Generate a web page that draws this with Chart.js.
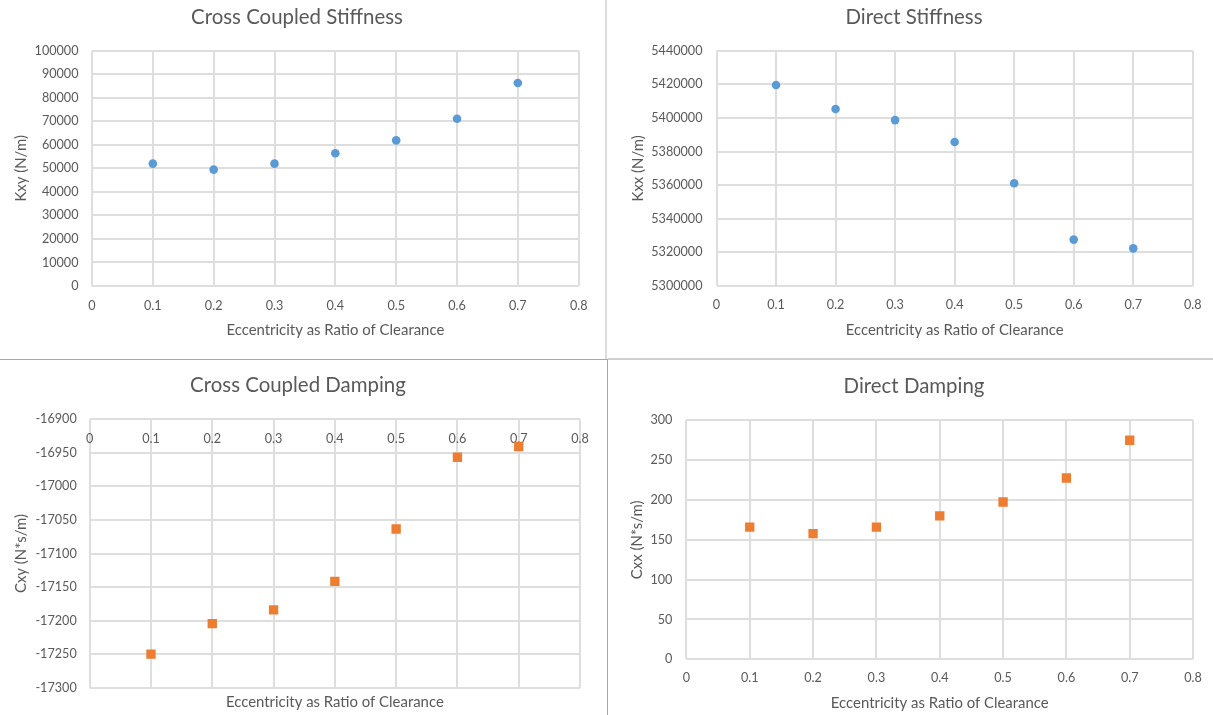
<!DOCTYPE html>
<html><head><meta charset="utf-8">
<script src="https://cdn.jsdelivr.net/npm/chart.js@4/dist/chart.umd.min.js"></script>
<style>
html,body{margin:0;padding:0;background:#fff;width:1213px;height:715px;overflow:hidden;position:relative}
canvas{position:absolute}
.sep{position:absolute}
</style></head><body>
<canvas id="c1"></canvas>
<canvas id="c2"></canvas>
<canvas id="c3"></canvas>
<canvas id="c4"></canvas>
<div class="sep" style="left:605px;top:0;width:2px;height:359px;background:#dcdcdc"></div>
<div class="sep" style="left:0;top:359px;width:608px;height:1px;background:#a8a8a8"></div>
<div class="sep" style="left:608px;top:358px;width:605px;height:2px;background:#d0d0d0"></div>
<div class="sep" style="left:607px;top:359px;width:1px;height:356px;background:#a8a8a8"></div>
<script>
// ---------- data ----------
const eccentricity = [0.1, 0.2, 0.3, 0.4, 0.5, 0.6, 0.7];
const kxy = [52000, 49450, 52000, 56400, 61900, 71100, 86250];
const kxx = [5419600, 5405300, 5398700, 5385700, 5361100, 5327600, 5322400];
const cxy = [-17250, -17204.5, -17184, -17141.5, -17063.5, -16956.5, -16940.5];
const cxx = [166, 157.7, 166, 180, 197.5, 227.6, 275];

const xTickValues = [0, 0.1, 0.2, 0.3, 0.4, 0.5, 0.6, 0.7, 0.8];
const xTickLabels = ['0', '0.1', '0.2', '0.3', '0.4', '0.5', '0.6', '0.7', '0.8'];
const kxyTicks = [0, 10000, 20000, 30000, 40000, 50000, 60000, 70000, 80000, 90000, 100000];
const kxxTicks = [5300000, 5320000, 5340000, 5360000, 5380000, 5400000, 5420000, 5440000];
const cxyTicks = [-17300, -17250, -17200, -17150, -17100, -17050, -17000, -16950, -16900];
const cxxTicks = [0, 50, 100, 150, 200, 250, 300];

const titles = ['Cross Coupled Stiffness', 'Direct Stiffness', 'Cross Coupled Damping', 'Direct Damping'];
const yTitles = ['Kxy (N/m)', 'Kxx (N/m)', 'Cxy (N*s/m)', 'Cxx (N*s/m)'];
const xTitle = 'Eccentricity as Ratio of Clearance';

// ---------- style ----------
const FAMILY = "Lato, 'Open Sans', sans-serif";
const TXT = '#595959';
const GRID = '#dedede';
const BLUE = '#5B9BD5';
const ORANGE = '#ED7D31';

function fitSize(text, target) {
  const c = document.createElement('canvas').getContext('2d');
  c.font = '400 100px ' + FAMILY;
  return 100 * target / c.measureText(text).width;
}
const tfs = fitSize('Cross Coupled Stiffness', 212);
const afs = fitSize(xTitle, 218);
const kfs = fitSize('100000', 44);

Chart.defaults.font.family = FAMILY;
Chart.defaults.color = TXT;

// layout targets in page pixels
const layouts = [
  {id:'c1', region:{L:0,T:0,W:605,H:358}, plot:{l:92,t:50.7,r:578.7,b:286}, titleCX:297, titleCY:17.3, yTitleCX:21, yTickGap:13.5, xTickCY:306, xTitleCY:330},
  {id:'c2', region:{L:607,T:0,W:606,H:358}, plot:{l:716.5,t:50.7,r:1196,b:286}, titleCX:914, titleCY:17, yTitleCX:637.7, yTickGap:14, xTickCY:305, xTitleCY:330},
  {id:'c3', region:{L:0,T:360,W:607,H:355}, plot:{l:89.7,t:419.3,r:580,b:687.7}, titleCX:298, titleCY:385.7, yTitleCX:21, yTickGap:13, xTickCY:439, xTitleCY:701.7, topTicks:true},
  {id:'c4', region:{L:609,T:360,W:604,H:355}, plot:{l:686.4,t:420.3,r:1196,b:659.3}, titleCX:914, titleCY:386.7, yTitleCX:637, yTickGap:14, xTickCY:678, xTitleCY:703}
];

const series = [
  {values:kxy, ticks:kxyTicks, color:BLUE, style:'circle', radius:4.3},
  {values:kxx, ticks:kxxTicks, color:BLUE, style:'circle', radius:4.3},
  {values:cxy, ticks:cxyTicks, color:ORANGE, style:'rect', radius:6.6},
  {values:cxx, ticks:cxxTicks, color:ORANGE, style:'rect', radius:6.6}
];

function build(k) {
  const spec = layouts[k], s = series[k];
  const {L, T, W, H} = spec.region;
  const p = spec.plot;
  const tLH = tfs * 1.2, aLH = afs * 1.2, kLH = kfs * 1.2;
  const rightRel = p.r - L;
  const padR = W - rightRel;
  const padL = Math.max(0, 2 * (spec.titleCX - L) - rightRel);
  const yW = p.l - L - padL;
  const titlePadTop = spec.titleCY - T - tLH / 2;
  const titlePadBottom = (p.t - T) - titlePadTop - tLH;
  const xH = H - (p.b - T);
  const xTickPad = spec.xTickCY - p.b - kLH / 2;
  const xTitlePadBottom = (T + H) - spec.xTitleCY - aLH / 2;
  const yTitlePadTop = spec.yTitleCX - L - padL - aLH / 2;

  const cv = document.getElementById(spec.id);
  cv.width = W; cv.height = H;
  cv.style.left = L + 'px'; cv.style.top = T + 'px';
  cv.style.width = W + 'px'; cv.style.height = H + 'px';

  const yLabels = s.ticks.map(v => String(v));
  const scales = {
    x: {
      type: 'linear', position: 'bottom', min: 0, max: 0.8,
      afterBuildTicks: sc => { sc.ticks = xTickValues.map(v => ({value: v})); },
      afterFit: sc => { sc.height = xH; },
      grid: {color: GRID, lineWidth: 2, drawTicks: false},
      border: {display: false},
      ticks: {display: !spec.topTicks, padding: xTickPad, font: {size: kfs}, color: TXT,
              callback: (v, i) => xTickLabels[i], maxRotation: 0, autoSkip: false},
      title: {display: true, text: xTitle, font: {size: afs}, color: TXT, padding: {top: 0, bottom: xTitlePadBottom}}
    },
    y: {
      type: 'linear', position: 'left', min: s.ticks[0], max: s.ticks[s.ticks.length - 1],
      afterBuildTicks: sc => { sc.ticks = s.ticks.map(v => ({value: v})); },
      afterFit: sc => { sc.width = yW; },
      grid: {color: GRID, lineWidth: 2, drawTicks: false},
      border: {display: false},
      ticks: {padding: spec.yTickGap, font: {size: kfs}, color: TXT,
              callback: (v, i) => yLabels[i], autoSkip: false},
      title: {display: true, text: yTitles[k], font: {size: afs}, color: TXT, padding: {top: yTitlePadTop, bottom: 0}}
    }
  };
  if (spec.topTicks) {
    // value axis crosses at the top: labels sit just under the top edge of the plot
    scales.xTop = {
      type: 'linear', position: 'top', axis: 'x', min: 0, max: 0.8,
      afterBuildTicks: sc => { sc.ticks = xTickValues.map(v => ({value: v})); },
      afterFit: sc => { sc.height = 0; },
      grid: {display: false, drawTicks: false},
      border: {display: false},
      ticks: {mirror: true, padding: (spec.xTickCY - p.t) - kLH / 2, font: {size: kfs}, color: TXT,
              callback: (v, i) => xTickLabels[i], maxRotation: 0, autoSkip: false}
    };
  }

  new Chart(cv, {
    type: 'scatter',
    data: {
      datasets: [{
        data: eccentricity.map((x, i) => ({x: x, y: s.values[i]})),
        pointStyle: s.style,
        pointRadius: s.radius,
        pointBackgroundColor: s.color,
        pointBorderColor: s.color,
        pointBorderWidth: 0
      }]
    },
    options: {
      responsive: false, animation: false, devicePixelRatio: 1,
      layout: {padding: {left: padL, right: padR, top: 0, bottom: 0}},
      plugins: {
        legend: {display: false},
        tooltip: {enabled: false},
        title: {display: true, text: titles[k], color: TXT,
                font: {size: tfs, weight: 'normal'},
                padding: {top: titlePadTop, bottom: titlePadBottom}}
      },
      scales: scales
    }
  });
}
[0, 1, 2, 3].forEach(build);
</script>
</body></html>
